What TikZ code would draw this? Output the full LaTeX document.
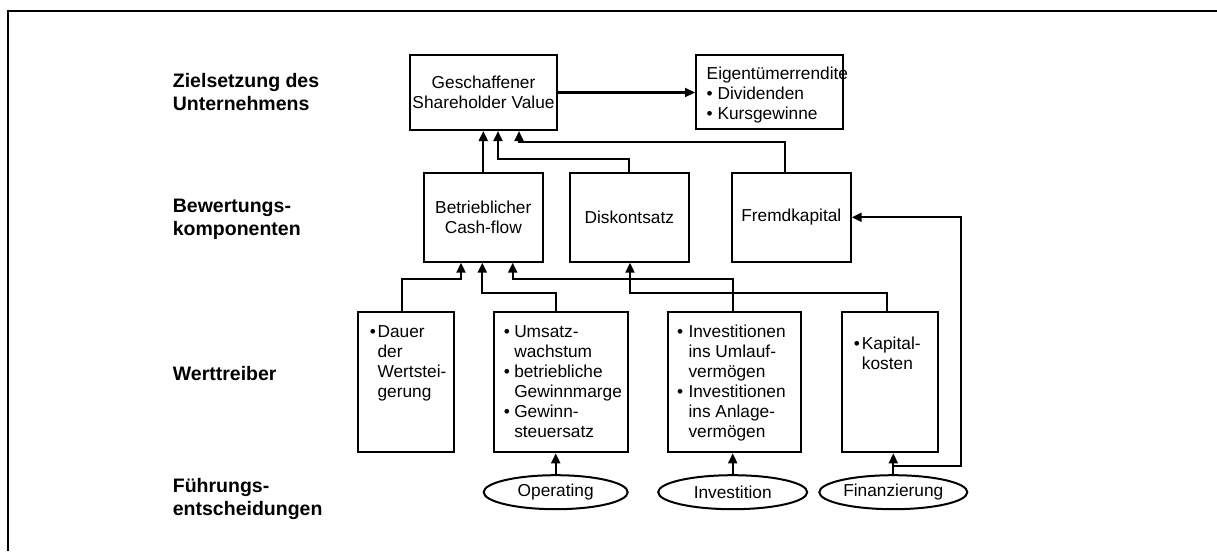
\documentclass[tikz,border=0pt]{standalone}
\usepackage{fontspec}
\setmainfont{Liberation Sans}
\usetikzlibrary{arrows.meta,shapes.geometric,calc}

\newcommand{\boxfont}{\fontsize{17.3}{20}\selectfont}
\newcommand{\lblfont}{\fontsize{19.5}{23}\selectfont\bfseries}

\tikzset{
  frameline/.style={line width=2pt},
  box/.style={draw, line width=2.1pt, inner sep=0pt, font=\boxfont, align=center},
  oval/.style={draw, ellipse, line width=2pt, inner sep=0pt, font=\boxfont},
  lbl/.style={anchor=base west, inner sep=0pt, font=\lblfont},
  txt/.style={anchor=base west, inner sep=0pt, font=\boxfont},
  arr/.style={-{Triangle[length=10pt,width=9pt]}, line width=2.1pt}
}

\begin{document}
\begin{tikzpicture}[x=1pt,y=-1pt]
\useasboundingbox (0,0) rectangle (1217,551);

% outer frame (top and left edges)
\draw[frameline] (1217,11) -- (8,11) -- (8,551);

% level labels
\node[lbl] (lz) at (172.7,87)  {\begin{tabular}[t]{@{}l@{}}Zielsetzung des\\Unternehmens\end{tabular}};
\node[lbl] (lb) at (172.7,212.7) {\begin{tabular}[t]{@{}l@{}}Bewertungs-\\komponenten\end{tabular}};
\node[lbl] (lw) at (172.7,380.7) {Werttreiber};
\node[lbl] (lf) at (172.7,492.7) {\begin{tabular}[t]{@{}l@{}}Führungs-\\entscheidungen\end{tabular}};

% goal level
\node[box, minimum width=147pt, minimum height=75pt] (gsv) at (483.5,92.5) {Geschaffener\\Shareholder Value};
\node[box, minimum width=147.3pt, minimum height=74.3pt] (eig) at (769.7,92.2) {};
\node[txt] (eigt) at (706.5,79) {\begin{tabular}[t]{@{}l@{}}Eigentümerrendite\\\textbullet{} Dividenden\\\textbullet{} Kursgewinne\end{tabular}};

% valuation components
\node[box, minimum width=118.7pt, minimum height=88.7pt] (bcf)  at (483.3,217.3) {Betrieblicher\\Cash-flow};
\node[box, minimum width=118.7pt, minimum height=88.7pt] (disk) at (629.3,217.3) {Diskontsatz};
\node[box, minimum width=118.7pt, minimum height=88.7pt] (fk)   at (791.3,217.3) {Fremdkapital};

% value drivers
\node[box, minimum width=95.7pt, minimum height=140.6pt] (dauer) at (406.2,382) {};
\node[box, minimum width=134.3pt, minimum height=140.6pt] (ums) at (561.2,382) {};
\node[box, minimum width=133pt, minimum height=140.6pt] (inv) at (734.2,382) {};
\node[box, minimum width=96pt, minimum height=140.6pt] (kap) at (890.3,382) {};

\node[txt] (dauert) at (369.7,337.8) {\begin{tabular}[t]{@{}l@{\hspace{1.6pt}}l@{}}\textbullet & Dauer\\ & der\\ & Wertstei-\\ & gerung\end{tabular}};
\node[txt] (umst) at (503.7,337.8) {\begin{tabular}[t]{@{}l@{\hspace{4.3pt}}l@{}}\textbullet & Umsatz-\\ & wachstum\\\textbullet & betriebliche\\ & Gewinnmarge\\\textbullet & Gewinn-\\ & steuersatz\end{tabular}};
\node[txt] (invt) at (677,337.8) {\begin{tabular}[t]{@{}l@{\hspace{5.3pt}}l@{}}\textbullet & Investitionen\\ & ins Umlauf-\\ & vermögen\\\textbullet & Investitionen\\ & ins Anlage-\\ & vermögen\end{tabular}};
\node[txt] (kapt) at (853.7,349.4) {\begin{tabular}[t]{@{}l@{\hspace{2pt}}l@{}}\textbullet & Kapital-\\ & kosten\end{tabular}};

% management decisions
\node[oval, minimum width=144pt, minimum height=34pt] (op)  at (555.7,492.2) {Operating};
\node[oval, minimum width=149pt, minimum height=34pt] (ivt) at (732.7,492.2) {Investition};
\node[oval, minimum width=148pt, minimum height=34pt] (fin) at (893.3,492.2) {Finanzierung};

% connectors
\draw[arr] (gsv.east) -- (gsv.east -| eig.west);
\draw[arr] (bcf.north) -- (bcf.north |- gsv.south);
\draw[arr] (disk.north) -- ++(0,-13) -| ([xshift=14.5pt]gsv.south);
\draw[arr] ([xshift=-6.3pt]fk.north) -- ++(0,-30) -| ([xshift=35.5pt]gsv.south);

\draw[arr] ([xshift=-4.5pt]dauer.north) -- ++(0,-31.7) -| ([xshift=-22.3pt]bcf.south);
\draw[arr] ([xshift=-5.5pt]ums.north) -- ++(0,-17.7) -| ([xshift=-1pt]bcf.south);
\draw[arr] ([xshift=-1.5pt]inv.north) -- ++(0,-31.7) -| ([xshift=29.4pt]bcf.south);
\draw[arr] ([xshift=-3.6pt]kap.north) -- ++(0,-17.7) -| ([xshift=0.7pt]disk.south);

\draw[arr] (op.north) -- (op.north |- ums.south);
\draw[arr] (ivt.north) -- (ivt.north |- inv.south);
\draw[arr] (fin.north) -- (fin.north |- kap.south);
\draw[arr] ([yshift=8.3pt]fin.north) -- ++(67.7,0) |- (fk.east);
\end{tikzpicture}
\end{document}
